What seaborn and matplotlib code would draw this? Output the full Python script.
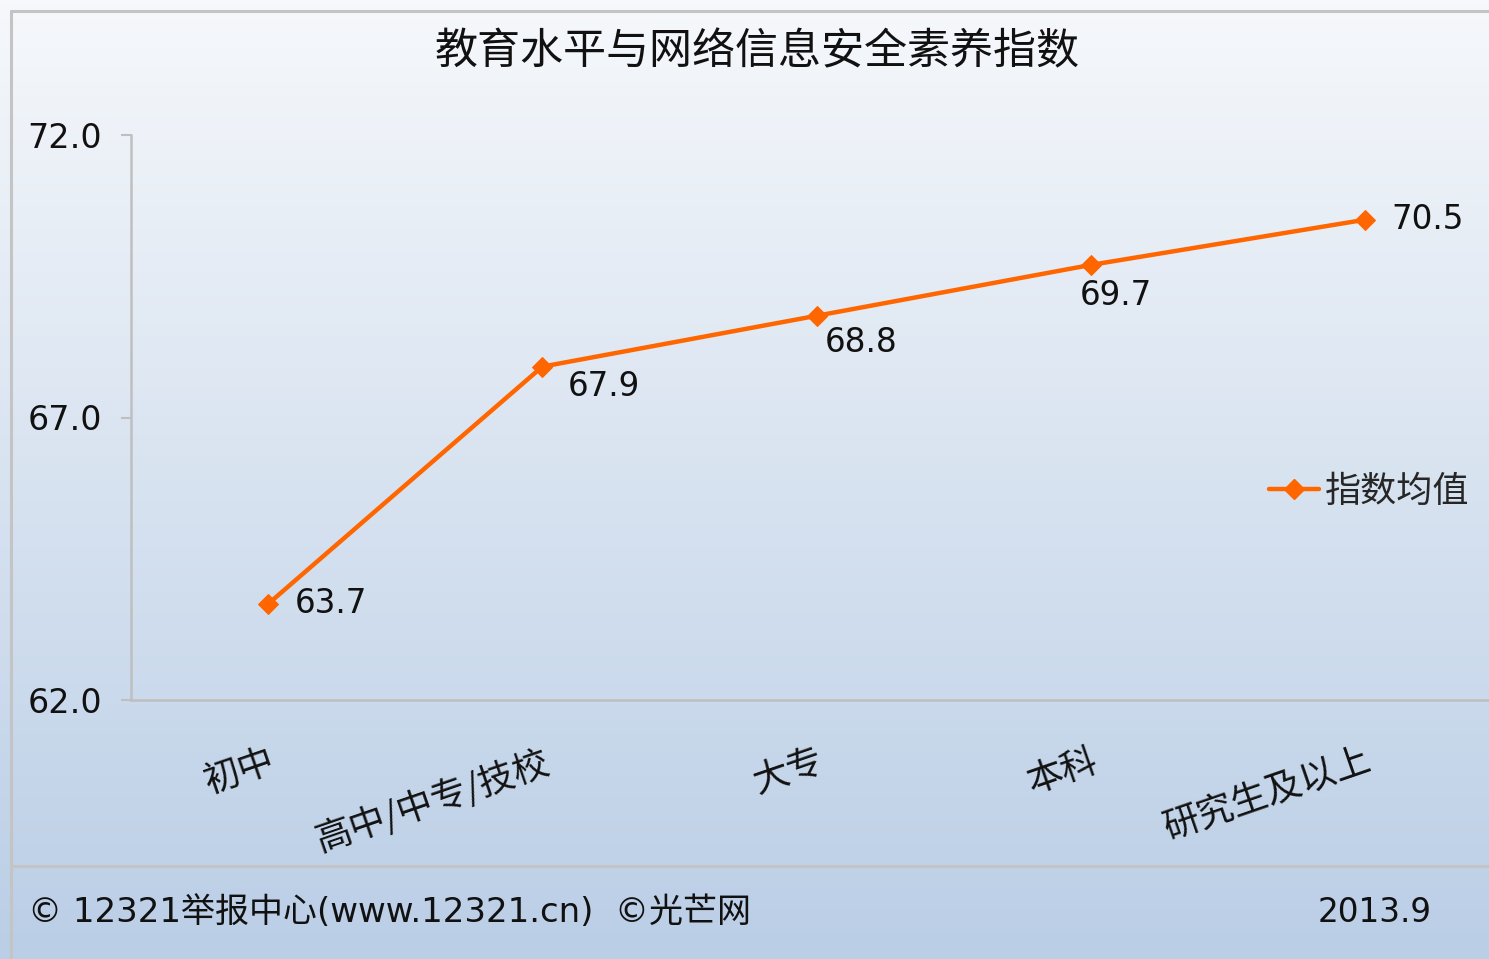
import numpy as np
import pandas as pd
import matplotlib
matplotlib.use("Agg")
import matplotlib.pyplot as plt
import matplotlib.transforms as mtransforms
from matplotlib.lines import Line2D
from matplotlib.colors import LinearSegmentedColormap
import seaborn as sns

# ─── Data ────────────────────────────────────────────────
EDUCATION = ["初中", "高中/中专/技校", "大专", "本科", "研究生及以上"]
INDEX_MEAN = [63.7, 67.9, 68.8, 69.7, 70.5]
Y_TICKS = [62.0, 67.0, 72.0]
SERIES_NAME = "指数均值"
TITLE = "教育水平与网络信息安全素养指数"
FOOTER_LEFT = "© 12321举报中心(www.12321.cn)  ©光芒网"
FOOTER_RIGHT = "2013.9"

# label offsets (points) for the value annotations
LABEL_OFFSETS = [(19, 0), (18, -14), (6, -19), (-8, -22), (19, 0)]

LINE_COLOR = "#FF6600"
GRAY = "#BFBFBF"

sns.set_theme(style="white")
plt.rcParams["font.family"] = ["DejaVu Sans", "Noto Sans CJK SC"]
CJK = ["Noto Sans CJK SC", "DejaVu Sans"]

df = pd.DataFrame({"edu": EDUCATION, "value": INDEX_MEAN})

W, H = 1489, 959
fig = plt.figure(figsize=(W / 100, H / 100), dpi=100)

# background gradient
bg = fig.add_axes([0, 0, 1, 1], zorder=-10)
cmap = LinearSegmentedColormap.from_list("bg", ["#F6F8FB", "#BACEE6"])
bg.imshow(np.linspace(0, 1, 256).reshape(-1, 1), aspect="auto", cmap=cmap,
          extent=[0, 1, 0, 1], origin="upper")
bg.set_axis_off()

# border lines
def fx(px):
    return px / W

def fy(py):
    return 1 - py / H

for xs, ys in [((fx(11), 1), (fy(11), fy(11))),
               ((fx(11), fx(11)), (fy(11), 0)),
               ((fx(11), 1), (fy(866), fy(866)))]:
    fig.add_artist(Line2D(xs, ys, color="#C4C4C4", lw=2.2, zorder=5))

ax = fig.add_axes([fx(131), fy(700), 1371 / W, (700 - 135) / H])
ax.patch.set_alpha(0)

sns.lineplot(data=df, x="edu", y="value", ax=ax, color=LINE_COLOR, lw=3.2,
             marker="D", markersize=10, markeredgecolor=LINE_COLOR, sort=False,
             label=SERIES_NAME, legend=False)

for i, (v, (dx, dy)) in enumerate(zip(INDEX_MEAN, LABEL_OFFSETS)):
    ax.annotate(f"{v:.1f}", (i, v), xytext=(dx, dy), textcoords="offset points",
                ha="left", va="center", fontsize=23.5, color="#111111")

ax.set_xlim(-0.5, 4.5)
ax.set_ylim(62, 72)
ax.set_yticks(Y_TICKS)
ax.set_yticklabels([f"{t:.1f}" for t in Y_TICKS], fontsize=24)
ax.set_xticks(range(len(EDUCATION)))
ax.set_xticklabels(EDUCATION, family=CJK, fontsize=26, rotation=19,
                   ha="right", va="top", rotation_mode="anchor")
shift = mtransforms.ScaledTranslation(-6 / 100, 0, fig.dpi_scale_trans)
for lbl in ax.get_xticklabels():
    lbl.set_transform(lbl.get_transform() + shift)
ax.set_xticks(np.arange(-0.5, len(EDUCATION)), minor=True)
ax.tick_params(axis="x", which="major", length=0, pad=31, colors="#111111")
ax.tick_params(axis="x", which="minor", length=6, width=1.5, color=GRAY, direction="out")
ax.tick_params(axis="y", length=7, width=1.5, color=GRAY, pad=14, labelcolor="#111111",
               direction="out", left=True)
ax.set_xlabel("")
ax.set_ylabel("")
for side in ["top", "right"]:
    ax.spines[side].set_visible(False)
for side in ["left", "bottom"]:
    ax.spines[side].set_color(GRAY)
    ax.spines[side].set_linewidth(1.8)
ax.grid(False)

fig.text(fx(757), fy(52), TITLE, family=CJK, fontsize=31, ha="center", va="center",
         color="#111111")

handle = Line2D([], [], color=LINE_COLOR, lw=3.2, marker="D", markersize=10)
fig.legend([handle], [SERIES_NAME], loc="center left", frameon=False,
           bbox_to_anchor=(fx(1236), fy(492)), handlelength=1.4, handletextpad=0.15,
           prop={"family": CJK, "size": 26})

fig.text(fx(28), fy(913), FOOTER_LEFT, fontsize=24.5, ha="left", va="center", color="#111111")
fig.text(fx(1432), fy(913), FOOTER_RIGHT, fontsize=23.5, ha="right", va="center", color="#111111")

fig.savefig("out.png", dpi=100)
